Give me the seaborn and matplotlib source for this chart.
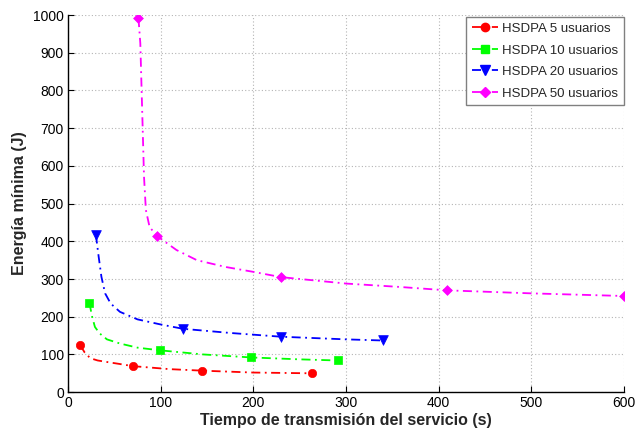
import matplotlib
matplotlib.use("Agg")
import matplotlib.pyplot as plt
from matplotlib.lines import Line2D
import seaborn as sns
import pandas as pd

# Series labels
labels = ["HSDPA 5 usuarios", "HSDPA 10 usuarios", "HSDPA 20 usuarios", "HSDPA 50 usuarios"]

# Marker points
x5_m = [13, 70, 145, 263]
y5_m = [125, 69, 57, 50]
x10_m = [23, 99, 198, 291]
y10_m = [237, 111, 92, 84]
x20_m = [30, 124, 230, 340]
y20_m = [418, 168, 147, 137]
x50_m = [76, 96, 230, 409, 600]
y50_m = [992, 414, 305, 270, 255]

# Curve points
x5_c = [13, 18, 24, 32, 42, 55, 70, 90, 110, 145, 200, 263]
y5_c = [125, 105, 90, 84, 80, 75, 69, 65, 61, 57, 52, 50]
x10_c = [23, 26, 29, 34, 42, 56, 75, 99, 146, 198, 250, 291]
y10_c = [237, 200, 173, 156, 140, 129, 118, 111, 100, 92, 87, 84]
x20_c = [30, 33, 36, 40, 46, 56, 75, 99, 124, 175, 230, 300, 340]
y20_c = [418, 360, 306, 262, 235, 213, 193, 180, 168, 157, 147, 140, 137]
x50_c = [76, 78, 80, 82, 84, 88, 96, 117, 139, 170, 200, 230, 300, 358, 409, 500, 600]
y50_c = [992, 925, 748, 571, 483, 438, 414, 377, 350, 332, 319, 305, 288, 279, 270, 262, 255]

x_ticks = [0, 100, 200, 300, 400, 500, 600]
y_ticks = [0, 100, 200, 300, 400, 500, 600, 700, 800, 900, 1000]

colors = ["#ff0000", "#00ff00", "#0000ff", "#ff00ff"]
markers = ["o", "s", "v", "D"]
msizes = [6, 6, 7, 5]
dashdot = (0, (5, 2.5, 1, 2.5))

sns.set_theme(style="white")
plt.rcParams["font.family"] = ["Liberation Sans", "DejaVu Sans"]

fig = plt.figure(figsize=(6.36, 4.30), dpi=100)
ax = fig.add_axes([0.107, 0.088, 0.874, 0.877])

curves = [(x5_c, y5_c), (x10_c, y10_c), (x20_c, y20_c), (x50_c, y50_c)]
marks = [(x5_m, y5_m), (x10_m, y10_m), (x20_m, y20_m), (x50_m, y50_m)]

handles = []
for i, lab in enumerate(labels):
    cx, cy = curves[i]
    mx, my = marks[i]
    dfc = pd.DataFrame({"x": cx, "y": cy})
    sns.lineplot(data=dfc, x="x", y="y", ax=ax, color=colors[i], linestyle=dashdot,
                 linewidth=1.3, sort=False, estimator=None, legend=False)
    dfm = pd.DataFrame({"x": mx, "y": my})
    sns.scatterplot(data=dfm, x="x", y="y", ax=ax, color=colors[i], marker=markers[i],
                    s=msizes[i] ** 2, edgecolor=colors[i], linewidth=0.5, legend=False, zorder=3)
    handles.append(Line2D([0], [0], color=colors[i], linestyle=dashdot, linewidth=1.3,
                          marker=markers[i], markersize=msizes[i], markerfacecolor=colors[i],
                          markeredgecolor=colors[i], label=lab))

ax.set_xlim(0, 600)
ax.set_ylim(0, 1000)
ax.set_xticks(x_ticks)
ax.set_yticks(y_ticks)
ax.tick_params(direction="in", length=4, width=0.8, labelsize=10, colors="black", pad=3,
               bottom=True, left=True)
ax.grid(True, linestyle=(0, (1, 2)), color="#b4b4b4", linewidth=0.8)
for side in ["top", "right"]:
    ax.spines[side].set_visible(False)
for side in ["left", "bottom"]:
    ax.spines[side].set_color("black")
    ax.spines[side].set_linewidth(1.0)

ax.set_xlabel("Tiempo de transmisión del servicio (s)", fontsize=11.5, fontweight="bold", labelpad=2)
ax.set_ylabel("Energía mínima (J)", fontsize=11.5, fontweight="bold", labelpad=4)

leg = ax.legend(handles=handles, loc="upper right", fontsize=9.5, frameon=True, fancybox=False,
                edgecolor="#808080", framealpha=1, borderpad=0.45, handlelength=2.0,
                handletextpad=0.3, labelspacing=0.7, borderaxespad=0.0,
                bbox_to_anchor=(1.0, 0.995))
leg.get_frame().set_linewidth(1.0)

fig.savefig("out.png", dpi=100)
